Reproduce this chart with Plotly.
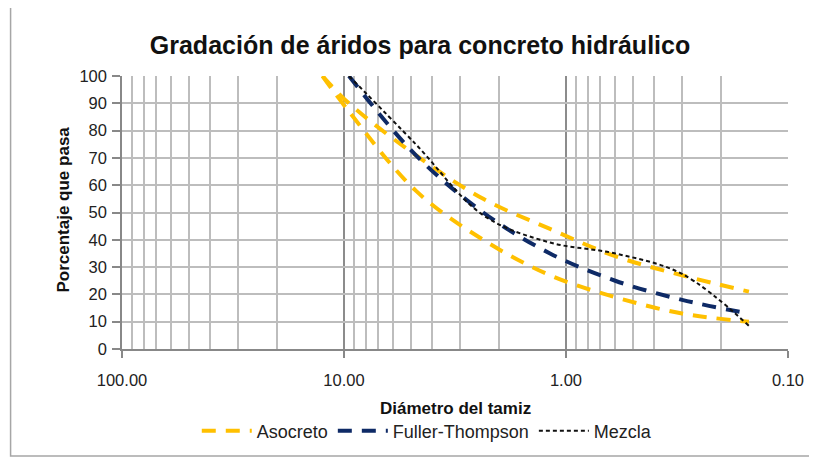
import plotly.graph_objects as go

# Sieve sizes (mm)
sieves_asocreto = [12.5, 9.5, 4.75, 2.36, 1.18, 0.6, 0.3, 0.15]
asocreto_upper = [100, 90, 71, 55, 44, 34, 27, 21]
asocreto_lower = [100, 87, 58, 40, 27, 19, 13, 10]

sieves_fuller = [9.5, 4.75, 2.36, 1.18, 0.6, 0.3, 0.15]
fuller = [100, 71, 50, 35, 25, 18, 13]

sieves_mezcla = [9.5, 4.75, 2.36, 1.18, 0.6, 0.3, 0.15]
mezcla = [100, 75, 49, 39, 35, 27.5, 8.5]

x_tickvals = [100, 10, 1, 0.1]
x_ticktext = ["100.00", "10.00", "1.00", "0.10"]
y_tickvals = [0, 10, 20, 30, 40, 50, 60, 70, 80, 90, 100]

YELLOW = "#FFC000"
NAVY = "#0E2A66"
FONT = "Liberation Sans, Arial, sans-serif"

# page body has an 8px margin: work in window pixels, convert to figure pixels
OFF = 8
W, H = 817 - OFF, 461 - OFF
L, R, T, B = 121.5 - OFF, 788 - OFF, 76 - OFF, 349 - OFF

def px_x(p):
    return (p - OFF - L) / (R - L)

def px_y(p):
    return (B - (p - OFF)) / (B - T)

fig = go.Figure()
fig.add_trace(go.Scatter(x=sieves_asocreto, y=asocreto_upper, mode="lines", name="Asocreto",
                         line=dict(color=YELLOW, width=4, dash="14px,10px", shape="spline", smoothing=1.0),
                         legendgroup="aso"))
fig.add_trace(go.Scatter(x=sieves_asocreto, y=asocreto_lower, mode="lines", name="Asocreto",
                         line=dict(color=YELLOW, width=4, dash="14px,10px", shape="spline", smoothing=1.0),
                         legendgroup="aso", showlegend=False))
fig.add_trace(go.Scatter(x=sieves_fuller, y=fuller, mode="lines", name="Fuller-Thompson",
                         line=dict(color=NAVY, width=4, dash="14px,10px", shape="spline", smoothing=1.0)))
fig.add_trace(go.Scatter(x=sieves_mezcla, y=mezcla, mode="lines", name="Mezcla",
                         line=dict(color="#111111", width=2, dash="4px,3px", shape="spline", smoothing=1.0)))

minor_vals = [m * 10 ** e for e in (1, 0, -1) for m in range(2, 10)]

fig.update_layout(
    width=W, height=H,
    margin=dict(l=L, r=W - R, t=T, b=H - B, pad=0),
    paper_bgcolor="white", plot_bgcolor="white",
    font=dict(family=FONT, color="#222222"),
    title=dict(text="Gradación de áridos para concreto hidráulico",
               xref="container", yref="container", x=(420 - OFF) / W, y=1 - (45 - OFF) / H,
               xanchor="center", yanchor="middle",
               font=dict(family=FONT, size=25, color="#111111", weight="bold")),
    showlegend=True,
    legend=dict(orientation="h", x=px_x(427), y=px_y(431), xanchor="center", yanchor="middle",
                font=dict(family=FONT, size=18, color="#222222"), itemwidth=50,
                bgcolor="rgba(0,0,0,0)"),
    xaxis=dict(type="log", range=[2, -1], autorange=False,
               tickvals=x_tickvals, ticktext=x_ticktext,
               tickfont=dict(family=FONT, size=16.5, color="#222222"),
               ticks="outside", ticklen=7, tickcolor="#888888", tickwidth=1.5,
               showline=True, linecolor="#888888", linewidth=1.5,
               showgrid=True, gridcolor="#8c8c8c", gridwidth=1.5,
               minor=dict(tickvals=minor_vals, showgrid=True, gridcolor="#bdbdbd", gridwidth=1.5, ticks=""),
               zeroline=False, ticklabelstandoff=8),
    yaxis=dict(range=[0, 100], autorange=False, tickvals=y_tickvals,
               tickfont=dict(family=FONT, size=16.5, color="#222222"),
               ticks="outside", ticklen=8, tickcolor="#888888", tickwidth=1.5,
               showline=True, linecolor="#888888", linewidth=1.5,
               showgrid=True, gridcolor="#bdbdbd", gridwidth=1.5, zeroline=False,
               ticklabelstandoff=2),
)

fig.add_annotation(text="Porcentaje que pasa", xref="paper", yref="paper",
                   x=px_x(62), y=px_y(210), textangle=-90, showarrow=False,
                   xanchor="center", yanchor="middle",
                   font=dict(family=FONT, size=17, color="#111111", weight="bold"))
fig.add_annotation(text="Diámetro del tamiz", xref="paper", yref="paper",
                   x=px_x(455), y=px_y(408), showarrow=False,
                   xanchor="center", yanchor="middle",
                   font=dict(family=FONT, size=17, color="#111111", weight="bold"))

# outer chart-area border
fig.add_shape(type="rect", xref="paper", yref="paper",
              x0=px_x(10), x1=px_x(812), y0=px_y(456), y1=px_y(5),
              line=dict(color="#a6a6a6", width=1.5), fillcolor="rgba(0,0,0,0)", layer="below")

fig.write_html("out.html")
